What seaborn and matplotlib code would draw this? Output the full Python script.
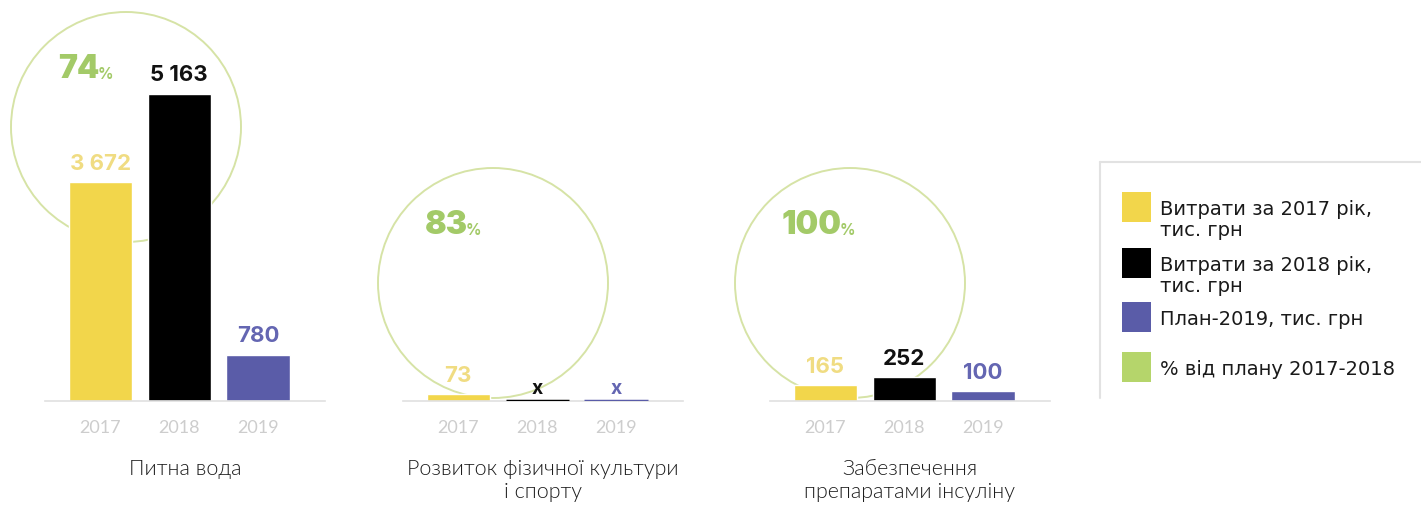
import matplotlib
matplotlib.use("Agg")
import matplotlib.pyplot as plt
from matplotlib.patches import Circle, Rectangle
import numpy as np
import pandas as pd
import seaborn as sns

# ---- data -------------------------------------------------------------
years = ["2017", "2018", "2019"]
panel_titles = [
    "Питна вода",
    "Розвиток фізичної культури\nі спорту",
    "Забезпечення\nпрепаратами інсуліну",
]
water = [3672, 5163, 780]
sport = [73, np.nan, np.nan]          # no spending recorded for 2018 / 2019
insulin = [165, 252, 100]
plan_share = [74, 83, 100]            # % of the 2017-2018 plan
legend_labels = [
    "Витрати за 2017 рік,\nтис. грн",
    "Витрати за 2018 рік,\nтис. грн",
    "План-2019, тис. грн",
    "% від плану 2017-2018",
]

# ---- style ------------------------------------------------------------
bar_colors = ["#f2d64b", "#000000", "#5a5ca8"]
value_colors = ["#f0dc82", "#111111", "#6466b2"]
legend_green = "#b5d56b"
ring_color = "#d6e3a6"
pct_color = "#a3ca68"
tick_grey = "#cdcdcd"
base_grey = "#e0e0e0"
num_font = ["Inter", "DejaVu Sans"]

sns.set_theme(style="white")
plt.rcParams["font.family"] = ["Lato", "DejaVu Sans"]

W, H = 1421, 505
fig = plt.figure(figsize=(W / 100, H / 100), dpi=100)
fig.patch.set_facecolor("white")

# pixel-space layer for the decorative rings and the legend
bg = fig.add_axes([0, 0, 1, 1])
bg.set_xlim(0, W)
bg.set_ylim(H, 0)
bg.axis("off")

panel_left = [45, 403, 770]
panel_width = 280
baseline_y = 401
top_y = 20
y_max = [6400, 4000, 4000]
ring_centers = [(126, 127), (493, 283), (850, 283)]
ring_radius = 115


def fmt(v):
    return f"{int(v):,}".replace(",", "\u00a0")


for k, (vals, title) in enumerate(zip([water, sport, insulin], panel_titles)):
    # ring with share of plan
    cx, cy = ring_centers[k]
    bg.add_patch(Circle((cx, cy), ring_radius, fill=False,
                        edgecolor=ring_color, lw=1.4))
    t = bg.text(cx - 68, cy - 42, f"{plan_share[k]}", color=pct_color,
                fontsize=23, fontweight="black", ha="left", va="bottom",
                family=num_font)
    bg.annotate("%", xy=(1, 0), xycoords=t, xytext=(-1.5, 2.5),
                textcoords="offset points", color=pct_color, fontsize=11,
                fontweight="bold", ha="left", va="bottom", family=num_font)

    ax = fig.add_axes([panel_left[k] / W, (H - baseline_y) / H,
                       panel_width / W, (baseline_y - top_y) / H])
    ax.patch.set_alpha(0)
    df = pd.DataFrame({"year": years, "value": vals})
    sns.barplot(data=df, x="year", y="value", hue="year", order=years,
                hue_order=years, palette=bar_colors, saturation=1,
                width=0.8, legend=False, ax=ax, errorbar=None)
    ax.set_xlim(-0.7, 2.85)
    ax.set_ylim(0, y_max[k])

    for i, v in enumerate(vals):
        if np.isnan(v):
            ax.hlines(0, i - 0.4, i + 0.4, color=bar_colors[i], lw=2.5,
                      zorder=4)
            ax.annotate("x", xy=(i, 0), xytext=(0, 2),
                        textcoords="offset points", ha="center", va="bottom",
                        fontsize=14, fontweight="bold", color=value_colors[i],
                        family=num_font)
        else:
            ax.annotate(fmt(v), xy=(i, v), xytext=(0, 6),
                        textcoords="offset points", ha="center", va="bottom",
                        fontsize=16, fontweight="bold", color=value_colors[i],
                        family=num_font)

    for side in ["left", "top", "right"]:
        ax.spines[side].set_visible(False)
    ax.spines["bottom"].set_color(base_grey)
    ax.spines["bottom"].set_linewidth(1.2)
    ax.set_yticks([])
    ax.set_ylabel("")
    ax.tick_params(axis="x", length=0, pad=14, labelsize=13,
                   labelcolor=tick_grey)
    ax.set_xlabel(title, fontsize=15.5, color="#1e1e1e", labelpad=16,
                  linespacing=1.2, fontweight=300)

# ---- legend -------------------------------------------------------------
bg.plot([1100, W], [162, 162], color="#e2e2e2", lw=1.5)
bg.plot([1100, 1100], [162, 398], color="#e2e2e2", lw=1.5)
legend_colors = bar_colors + [legend_green]
patch_tops = [192, 248, 302, 352]
for label, color, top in zip(legend_labels, legend_colors, patch_tops):
    bg.add_patch(Rectangle((1122, top), 29, 30, facecolor=color,
                           edgecolor="none"))
    bg.text(1160, top + 8, label, fontsize=14, color="#1a1a1a", ha="left",
            va="top", linespacing=1.15, family=["DejaVu Sans"])

fig.savefig("out.png", dpi=100, facecolor="white")
